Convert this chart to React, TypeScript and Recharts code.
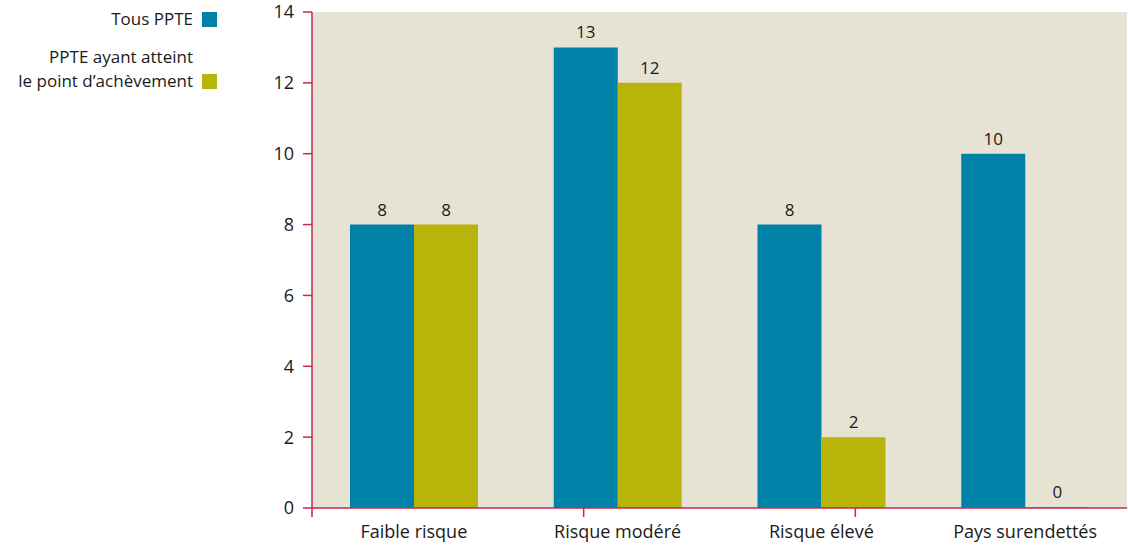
import { BarChart, Bar, XAxis, YAxis, LabelList } from "recharts";

const categories = ["Faible risque", "Risque modéré", "Risque élevé", "Pays surendettés"];
const tousPPTE = [8, 13, 8, 10];
const pointAchevement = [8, 12, 2, 0];
const yTicks = [0, 2, 4, 6, 8, 10, 12, 14];
const boundaryTicks = [0, 1, 2, 3, 4];

const BLUE = "#0082a8";
const OLIVE = "#b8b40a";
const AXIS = "#c9264f";
const BG = "#e6e3d5";
const TEXT = "#1a1a1a";
const FONT = "'Open Sans', 'Noto Sans', sans-serif";

const data = categories.map((name, i) => ({
  name,
  tous: tousPPTE[i],
  achev: pointAchevement[i],
}));

function LegendBox() {
  const row: React.CSSProperties = {
    display: "flex",
    justifyContent: "flex-end",
    alignItems: "flex-end",
    gap: 9,
  };
  const sq = (c: string): React.CSSProperties => ({
    width: 15,
    height: 15,
    background: c,
    flex: "none",
    marginBottom: 4,
  });
  return (
    <div
      style={{
        position: "absolute",
        left: 0,
        top: 7,
        width: 217,
        fontFamily: FONT,
        fontSize: 17,
        color: TEXT,
        textAlign: "right",
        lineHeight: "24px",
        whiteSpace: "nowrap",
      }}
    >
      <div style={row}>
        <span>Tous PPTE</span>
        <span style={sq(BLUE)} />
      </div>
      <div style={{ ...row, marginTop: 14 }}>
        <span>
          PPTE ayant atteint
          <br />
          le point d’achèvement
        </span>
        <span style={sq(OLIVE)} />
      </div>
    </div>
  );
}

export default function App() {
  return (
    <div style={{ position: "absolute", left: 0, top: 0, width: 1128, height: 546, background: "#fff" }}>
      <LegendBox />
      <BarChart
        width={1128}
        height={546}
        data={data}
        margin={{ top: 12, right: 1, bottom: 0, left: 0 }}
        barGap={0}
        barSize={64}
        style={{ fontFamily: FONT }}
      >
        <rect x={312} y={12} width={815} height={496} fill={BG} />
        <XAxis
          xAxisId="a"
          type="number"
          domain={[0, 4]}
          ticks={boundaryTicks}
          height={1}
          tickFormatter={() => ""}
          axisLine={{ stroke: AXIS, strokeWidth: 1.5 }}
          tickLine={{ stroke: AXIS, strokeWidth: 1.5 }}
          tickSize={9}
        />
        <XAxis
          xAxisId="b"
          dataKey="name"
          height={37}
          axisLine={false}
          tickLine={false}
          tickSize={0}
          tickMargin={16}
          tick={{ fill: TEXT, fontSize: 18 }}
        />
        <YAxis
          domain={[0, 14]}
          ticks={yTicks}
          width={312}
          axisLine={{ stroke: AXIS, strokeWidth: 1.5 }}
          tickLine={{ stroke: AXIS, strokeWidth: 1.5 }}
          tickSize={9}
          tickMargin={9}
          tick={{ fill: TEXT, fontSize: 18 }}
        />
        <Bar xAxisId="b" dataKey="tous" fill={BLUE} isAnimationActive={false}>
          <LabelList dataKey="tous" position="top" offset={9} fill={TEXT} fontSize={17} />
        </Bar>
        <Bar xAxisId="b" dataKey="achev" fill={OLIVE} minPointSize={1} isAnimationActive={false}>
          <LabelList dataKey="achev" position="top" offset={9} fill={TEXT} fontSize={17} />
        </Bar>
      </BarChart>
    </div>
  );
}
